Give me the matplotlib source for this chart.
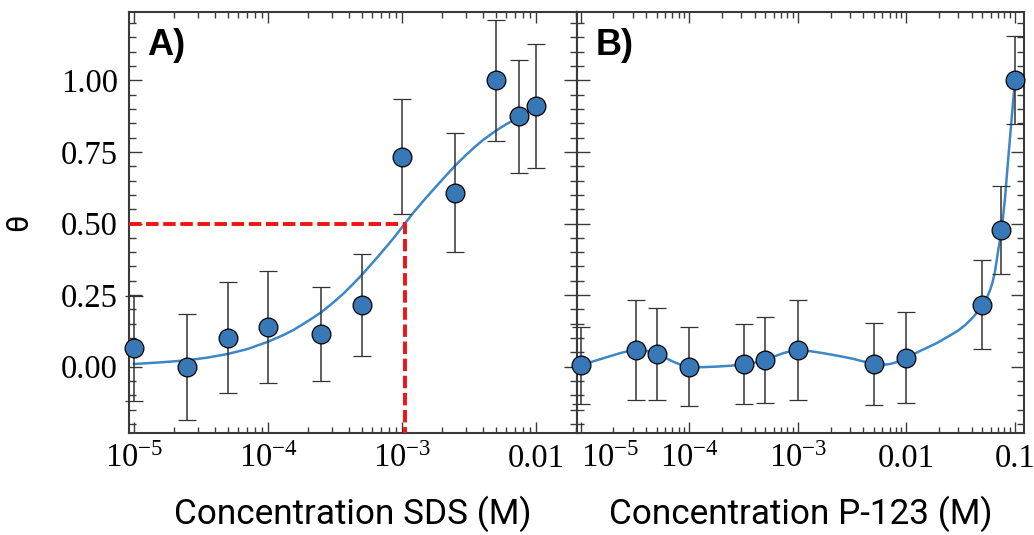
import numpy as np
import matplotlib
matplotlib.use('Agg')
import matplotlib.pyplot as plt
from matplotlib.ticker import MultipleLocator, LogLocator, NullFormatter

plt.rcParams['font.family'] = ['Liberation Serif', 'DejaVu Serif']
plt.rcParams['mathtext.fontset'] = 'custom'
plt.rcParams['mathtext.rm'] = 'Liberation Serif'
plt.rcParams['mathtext.it'] = 'Liberation Serif:italic'

# panel A: SDS
sds_conc = [1e-5, 2.5e-5, 5e-5, 1e-4, 2.5e-4, 5e-4, 1e-3, 2.5e-3, 5e-3, 7.5e-3, 1e-2]
sds_theta = [0.064, 0.0, 0.101, 0.139, 0.113, 0.215, 0.734, 0.608, 1.0, 0.874, 0.911]
sds_err = [0.183, 0.185, 0.194, 0.196, 0.165, 0.177, 0.200, 0.208, 0.212, 0.199, 0.216]

# fitted curve for SDS
sds_fit_conc = [1e-5, 1.6e-5, 2.5e-5, 3.6e-5, 5e-5, 7e-5, 1e-4, 1.3e-4, 1.55e-4, 2e-4,
                2.5e-4, 3e-4, 3.65e-4, 4.3e-4, 5e-4, 5.7e-4, 6.47e-4, 7.3e-4, 8.13e-4,
                9e-4, 1e-3, 1.1e-3, 1.21e-3, 1.4e-3, 1.62e-3, 1.85e-3, 2.15e-3, 2.5e-3,
                2.9e-3, 3.4e-3, 4e-3, 4.8e-3, 5.4e-3, 6.0e-3, 6.6e-3]
sds_fit_theta = [0.009, 0.015, 0.022, 0.032, 0.044, 0.061, 0.087, 0.110, 0.128, 0.160,
                 0.190, 0.220, 0.255, 0.288, 0.320, 0.350, 0.379, 0.408, 0.434,
                 0.459, 0.487, 0.512, 0.537, 0.572, 0.606, 0.636, 0.670, 0.703,
                 0.733, 0.763, 0.791, 0.818, 0.834, 0.847, 0.858]

sds_cmc = 1.05e-3
theta_half = 0.5

# panel B: P-123
p123_conc = [1e-5, 3.2e-5, 5e-5, 1e-4, 3.2e-4, 5e-4, 1e-3, 5e-3, 1e-2, 5e-2, 7.5e-2, 1e-1]
p123_theta = [0.005, 0.058, 0.045, 0.0, 0.009, 0.023, 0.057, 0.009, 0.031, 0.216, 0.478, 1.0]
p123_err = [0.135, 0.174, 0.160, 0.139, 0.140, 0.150, 0.175, 0.142, 0.159, 0.155, 0.154, 0.154]

p123_fit_conc = [1e-5, 1.61e-5, 2.3e-5, 2.8e-5, 3.16e-5, 3.6e-5, 4.06e-5, 4.5e-5, 5e-5,
                 6e-5, 7.13e-5, 8.5e-5, 1e-4, 1.3e-4, 1.79e-4, 2.4e-4, 3.14e-4, 4e-4,
                 5.06e-4, 6.1e-4, 7.35e-4, 8.6e-4, 1e-3, 1.3e-3, 1.71e-3, 2.4e-3,
                 3.24e-3, 4.1e-3, 5.05e-3, 6e-3, 7.04e-3, 8.4e-3, 1e-2, 1.36e-2, 1.9e-2,
                 2.5e-2, 3.0e-2, 3.5e-2, 4.1e-2, 4.6e-2, 5.04e-2, 5.5e-2, 5.88e-2, 6.2e-2,
                 6.53e-2, 7.0e-2, 7.53e-2, 8.07e-2, 8.65e-2, 9.3e-2, 1e-1]
p123_fit_theta = [0.005, 0.029, 0.047, 0.055, 0.058, 0.058, 0.055, 0.050, 0.045,
                  0.031, 0.017, 0.005, -0.002, -0.002, 0.0, 0.003, 0.008, 0.014,
                  0.023, 0.036, 0.047, 0.054, 0.057, 0.054, 0.047, 0.037,
                  0.027, 0.017, 0.009, 0.006, 0.009, 0.017, 0.031, 0.056, 0.082,
                  0.108, 0.126, 0.146, 0.172, 0.195, 0.216, 0.240, 0.266, 0.293,
                  0.330, 0.405, 0.478, 0.583, 0.723, 0.863, 1.0]

sds_ticks = [1e-5, 1e-4, 1e-3, 1e-2]
sds_ticklabels = [r'$10^{-5}$', r'$10^{-4}$', r'$10^{-3}$', '0.01']
p123_ticks = [1e-5, 1e-4, 1e-3, 1e-2, 1e-1]
p123_ticklabels = [r'$10^{-5}$', r'$10^{-4}$', r'$10^{-3}$', '0.01', '0.1']
theta_ticks = [0.0, 0.25, 0.5, 0.75, 1.0]
theta_ticklabels = ['0.00', '0.25', '0.50', '0.75', '1.00']

marker_col = '#3878b6'
line_col = '#3d87c6'
bar_col = '#333333'
axis_col = '#3a3a3a'
ylim = (-0.231, 1.238)

fig = plt.figure(figsize=(10.34, 5.35), dpi=100)
ax1 = fig.add_axes([0.1248, 0.1912, 0.4333, 0.7858])
ax2 = fig.add_axes([0.5580, 0.1912, 0.4323, 0.7858])


def style(ax, xlim, ticks, labels):
    ax.set_xscale('log')
    ax.set_xlim(*xlim)
    ax.set_ylim(*ylim)
    ax.set_xticks(ticks, labels)
    ax.xaxis.set_minor_locator(LogLocator(base=10, subs=np.arange(2, 10), numticks=20))
    ax.xaxis.set_minor_formatter(NullFormatter())
    ax.yaxis.set_minor_locator(MultipleLocator(0.05))
    for s in ax.spines.values():
        s.set_linewidth(1.5)
        s.set_color(axis_col)
    ax.tick_params(which='both', direction='in', top=True, right=True,
                   color=axis_col, width=1.0, labelsize=23.5, pad=8)
    ax.tick_params(axis='y', which='major', length=9.5)
    ax.tick_params(axis='y', which='minor', length=5)
    ax.tick_params(axis='x', which='major', length=8)
    ax.tick_params(axis='x', which='minor', length=4.5)


def draw(ax, conc, theta, err, fit_c, fit_t):
    ax.plot(fit_c, fit_t, color=line_col, lw=1.8, zorder=2)
    ax.errorbar(conc, theta, yerr=err, fmt='o', ms=13.5, mfc=marker_col, mec='black',
                mew=0.9, ecolor=bar_col, elinewidth=1.1, capsize=6.5, capthick=1.1,
                zorder=3, clip_on=False)


# panel A
style(ax1, (9.2e-6, 0.0202), sds_ticks, sds_ticklabels)
ax1.set_yticks(theta_ticks, theta_ticklabels)
draw(ax1, sds_conc, sds_theta, sds_err, sds_fit_conc, sds_fit_theta)
ax1.plot([9.2e-6, sds_cmc, sds_cmc], [theta_half, theta_half, ylim[0]],
         color='#f01414', lw=2.8, dashes=(3.2, 1.2), zorder=4)
ax1.set_xlabel('Concentration SDS (M)', family='Roboto', fontsize=25.3, labelpad=15)
ax1.set_ylabel('θ', family='Roboto', fontsize=22)
ax1.yaxis.set_label_coords(-0.214, 0.5)
ax1.text(0.04, 0.898, 'A)', transform=ax1.transAxes, family='Liberation Sans',
         fontweight='bold', fontsize=26, ha='left', va='baseline')

# panel B
style(ax2, (9.24e-6, 0.121), p123_ticks, p123_ticklabels)
ax2.set_yticks(theta_ticks)
ax2.tick_params(axis='y', labelleft=False)
ax2.get_xticklabels()[0].set_horizontalalignment('left')
draw(ax2, p123_conc, p123_theta, p123_err, p123_fit_conc, p123_fit_theta)
ax2.set_xlabel('Concentration P-123 (M)', family='Roboto', fontsize=25.3, labelpad=15)
ax2.text(0.0425, 0.898, 'B)', transform=ax2.transAxes, family='Liberation Sans',
         fontweight='bold', fontsize=26, ha='left', va='baseline')

fig.savefig('out.png', dpi=100)
